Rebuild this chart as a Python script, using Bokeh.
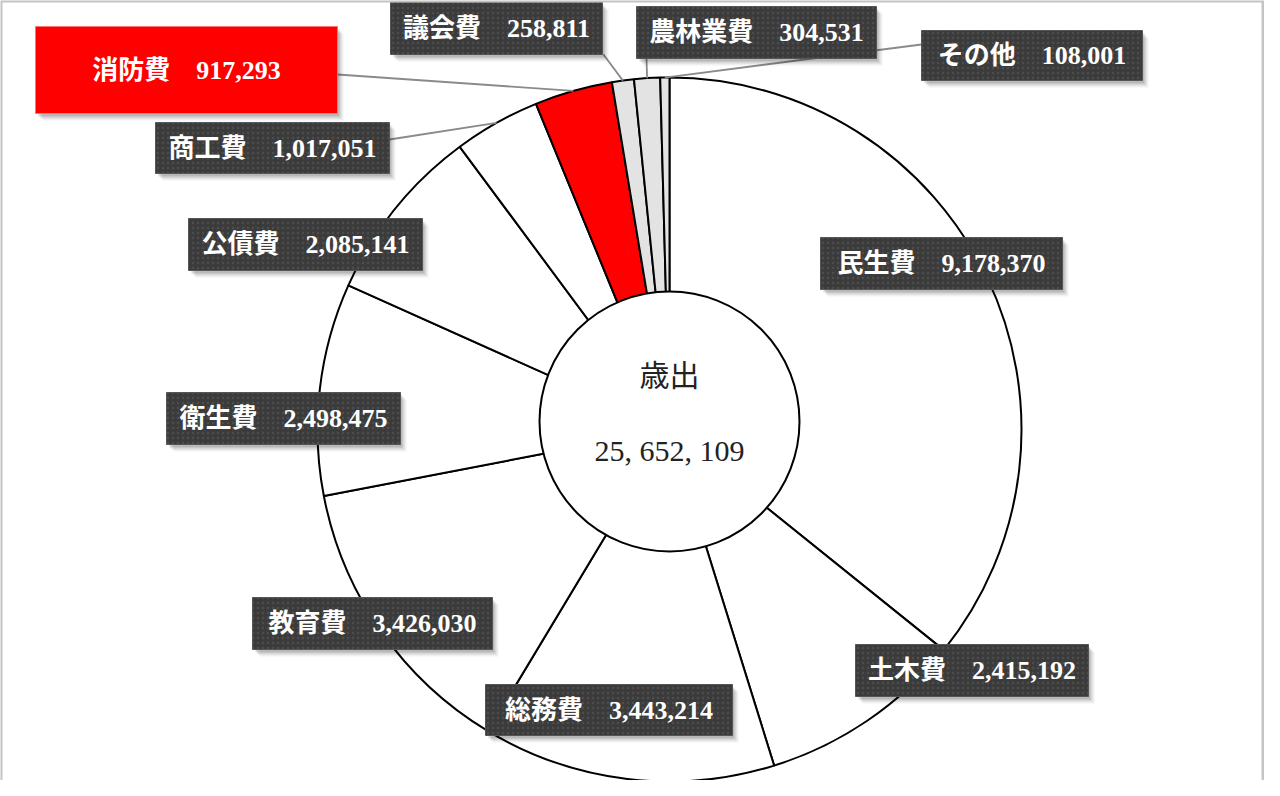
import math
from bokeh.plotting import figure
from bokeh.models import Range1d, ColumnDataSource
from bokeh.core.properties import value
from bokeh.embed import file_html
from bokeh.resources import INLINE

# ---- data ----
categories = ["民生費", "土木費", "総務費", "教育費", "衛生費", "公債費",
              "商工費", "消防費", "議会費", "農林業費", "その他"]
amounts = [9178370, 2415192, 3443214, 3426030, 2498475, 2085141,
           1017051, 917293, 258811, 304531, 108001]
center_title = "歳出"

# ---- styles ----
highlight = "消防費"
small_slices = ["議会費", "農林業費", "その他"]
W, H = 1264, 780


def S(sx, sy):
    """screen pixel (page) -> data coords"""
    return sx - 8, 788 - sy


p = figure(width=W, height=H, x_range=Range1d(0, W), y_range=Range1d(0, H),
           output_backend="svg", toolbar_location=None, min_border=0,
           x_axis_location=None, y_axis_location=None)
p.grid.visible = False
p.outline_line_color = None
p.background_fill_color = "white"
p.border_fill_color = "white"

# ---- pie ----
total = sum(amounts)
cx, cy = S(677, 437)
R = 352
starts, ends, mids, colors = [], [], [], []
cum = 0
for c, a in zip(categories, amounts):
    f0 = cum / total
    cum += a
    f1 = cum / total
    s = math.pi / 2 - 2 * math.pi * f0
    e = math.pi / 2 - 2 * math.pi * f1
    starts.append(s)
    ends.append(e)
    mids.append((s + e) / 2)
    if c == highlight:
        colors.append("#ff0000")
    elif c in small_slices:
        colors.append("#e3e3e3")
    else:
        colors.append("white")

src = ColumnDataSource(dict(cat=categories, amt=amounts, start=starts, end=ends, color=colors))
p.wedge(x=cx, y=cy, radius=R, start_angle="start", end_angle="end", direction="clock",
        fill_color="color", line_color="black", line_width=2, source=src)

# ---- inner circle ----
icx, icy = S(677, 429)
p.circle(x=[icx], y=[icy], radius=130, fill_color="white", line_color="black", line_width=2)
p.text(x=[icx], y=[S(0, 383)[1]], text=[center_title], text_align="center",
       text_baseline="middle", text_font_size="30px",
       text_font=value("'Liberation Serif', 'Noto Sans CJK JP'"), text_color="#222222")
p.text(x=[icx], y=[S(0, 458)[1]], text=[f"{total:,}".replace(",", ", ")], text_align="center",
       text_baseline="middle", text_font_size="30px",
       text_font=value("'Liberation Serif', 'Noto Sans CJK JP'"), text_color="#222222")

# ---- label layout (screen px) ----
boxes = {
    "消防費": (43, 34, 345, 121),
    "議会費": (398, 10, 610, 62),
    "農林業費": (644, 14, 884, 66),
    "その他": (929, 38, 1150, 88),
    "商工費": (163, 130, 397, 181),
    "公債費": (196, 226, 430, 278),
    "民生費": (828, 245, 1070, 297),
    "衛生費": (174, 400, 408, 452),
    "教育費": (260, 605, 500, 657),
    "総務費": (493, 692, 740, 743),
    "土木費": (863, 652, 1096, 704),
}
anchors = {
    "消防費": (345, 82),
    "議会費": (611, 62),
    "農林業費": (654, 66),
    "その他": (929, 52),
    "商工費": (397, 147),
}

# leader lines
lx0, ly0, lx1, ly1 = [], [], [], []
for c, m in zip(categories, mids):
    if c in anchors:
        ax, ay = S(*anchors[c])
        lx0.append(ax); ly0.append(ay)
        lx1.append(cx + R * math.cos(m)); ly1.append(cy + R * math.sin(m))
p.segment(x0=lx0, y0=ly0, x1=lx1, y1=ly1, line_color="#8a8a8a", line_width=1.8)

# boxes
for c, a in zip(categories, amounts):
    x0, y0, x1, y1 = boxes[c]
    l, t = S(x0, y0)
    r, b = S(x1, y1)
    # soft shadow
    for k, al in ((7, 0.06), (5, 0.10), (3, 0.14)):
        p.quad(left=l + k, right=r + k - 1, top=t - k, bottom=b - k, fill_color="black",
               fill_alpha=al, line_color=None)
    if c == highlight:
        p.quad(left=l, right=r, top=t, bottom=b, fill_color="#ff0000", line_color="#ff7070",
               line_width=1)
    else:
        p.quad(left=l, right=r, top=t, bottom=b, fill_color="#3b3b3b", line_color="#555555",
               line_width=1, hatch_pattern="dot", hatch_color="#4f4f4f", hatch_scale=5,
               hatch_weight=1, hatch_alpha=0.9)
    p.text(x=[(l + r) / 2], y=[(t + b) / 2], text=[f"{c}　{a:,}"], text_align="center",
           text_baseline="middle", text_font_size="26px", text_font_style="bold",
           text_font=value("'Liberation Serif', 'Noto Sans CJK JP'"), text_color="white")

# ---- frame (left, top, right) ----
fl, ft = S(8.5, 8.5)
fr, fb = S(1270.5, 796)
p.line(x=[fl, fl, fr, fr], y=[fb, ft, ft, fb], line_color="#c4c4c4", line_width=3)

open("out.html", "w").write(file_html(p, INLINE))
